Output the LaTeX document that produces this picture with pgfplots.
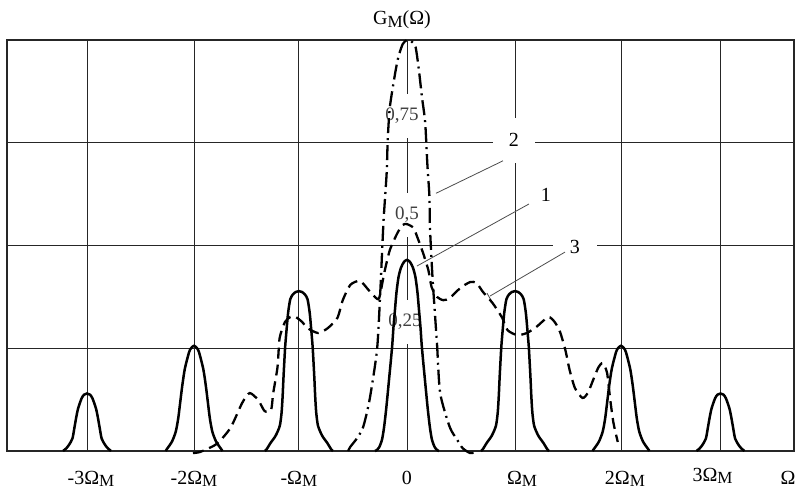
\documentclass[border=0pt]{standalone}
\usepackage{fontspec}
\setmainfont{Liberation Serif}
\usepackage{pgfplots}
\pgfplotsset{compat=1.18}
\newcommand{\sM}{\raisebox{-2.5bp}{\fontsize{17bp}{17bp}\selectfont M}}
\begin{document}
\begin{tikzpicture}
\path[use as bounding box] (-7bp,-39bp) rectangle (791bp,451bp);
\begin{axis}[
  scale only axis, width=787bp, height=411bp,
  xmin=-3.738, xmax=3.617, ymin=0, ymax=1,
  clip=false,
  xtick={-2.99,-1.99,-1.01,0,1.01,2,2.93},
  xticklabels={{\hspace*{8bp}-3Ω\sM},{-2Ω\sM},{-Ω\sM},{0},{\hspace*{14bp}Ω\sM},{\hspace*{8bp}2Ω\sM},{\raisebox{3bp}{3Ω\sM}\hspace*{16bp}}},
  ytick={0.25,0.5,0.75}, yticklabels={},
  major tick length=0pt,
  grid=major,
  grid style={line width=0.9bp, black!85},
  axis line style={line width=1.1bp, black!85},
  xticklabel style={anchor=base, inner sep=0pt, yshift=-33bp, font=\fontsize{20bp}{20bp}\selectfont},
  every axis plot/.append style={black},
]
\node[fill=white, minimum width=38bp, minimum height=44bp, inner sep=0pt, text=black!75, font=\fontsize{19bp}{19bp}\selectfont] at (axis cs:-0.047,0.815) {0,75};
\node[fill=white, minimum width=34bp, minimum height=44bp, inner sep=0pt, text=black!75, font=\fontsize{19bp}{19bp}\selectfont] at (axis cs:0,0.574) {0,5};
\node[fill=white, minimum width=38bp, minimum height=44bp, inner sep=0pt, text=black!75, font=\fontsize{19bp}{19bp}\selectfont] at (axis cs:-0.019,0.314) {0,25};
\node[fill=white, minimum width=42bp, minimum height=45bp, inner sep=0pt, font=\fontsize{20bp}{20bp}\selectfont] at (axis cs:1.0,0.756) {2};
\node[fill=white, minimum width=42bp, minimum height=45bp, inner sep=0pt, font=\fontsize{20bp}{20bp}\selectfont] at (axis cs:1.299,0.623) {1};
\node[fill=white, minimum width=44bp, minimum height=45bp, inner sep=0pt, font=\fontsize{20bp}{20bp}\selectfont] at (axis cs:1.570,0.496) {3};
\draw[black!70, line width=0.8bp] (axis cs:0.271,0.627) -- (axis cs:0.897,0.706);
\draw[black!70, line width=0.8bp] (axis cs:0.093,0.450) -- (axis cs:1.140,0.601);
\draw[black!70, line width=0.8bp] (axis cs:0.776,0.377) -- (axis cs:1.477,0.484);
\draw[black!70, line width=0.8bp] (axis cs:0.748,0.384) -- (axis cs:0.794,0.363);

\node[anchor=base, inner sep=0pt, font=\fontsize{20bp}{20bp}\selectfont] at ([yshift=15bp]axis cs:-0.047,1) {G\sM(Ω)};
\node[anchor=base, inner sep=0pt, font=\fontsize{20bp}{20bp}\selectfont] at ([yshift=-33bp]axis cs:3.561,0) {Ω};

% curve 1 (solid)
\pgfplotsset{sol/.style={line width=2.5bp, smooth, tension=0.45}}
\addplot[sol] coordinates {(-3.214,0) (-3.205,0.002) (-3.186,0.006) (-3.161,0.014) (-3.127,0.030) (-3.109,0.055) (-3.093,0.079) (-3.074,0.103) (-3.041,0.128) (-3.018,0.137) (-2.99,0.140) (-2.962,0.137) (-2.939,0.128) (-2.906,0.103) (-2.887,0.079) (-2.871,0.055) (-2.853,0.030) (-2.819,0.014) (-2.794,0.006) (-2.775,0.002) (-2.766,0)};
\addplot[sol] coordinates {(-2.256,0) (-2.240,0.006) (-2.196,0.023) (-2.161,0.047) (-2.138,0.079) (-2.119,0.119) (-2.100,0.159) (-2.076,0.200) (-2.037,0.240) (-2.018,0.250) (-1.99,0.256) (-1.962,0.250) (-1.943,0.240) (-1.904,0.200) (-1.880,0.159) (-1.861,0.119) (-1.842,0.079) (-1.819,0.047) (-1.784,0.023) (-1.740,0.006) (-1.724,0)};
\addplot[sol] coordinates {(-1.328,0) (-1.312,0.004) (-1.274,0.020) (-1.228,0.037) (-1.189,0.061) (-1.172,0.093) (-1.162,0.134) (-1.155,0.174) (-1.147,0.214) (-1.138,0.255) (-1.125,0.296) (-1.111,0.336) (-1.091,0.369) (-1.066,0.381) (-1.038,0.387) (-1.01,0.389) (-0.982,0.387) (-0.954,0.381) (-0.929,0.369) (-0.909,0.336) (-0.895,0.296) (-0.882,0.255) (-0.873,0.214) (-0.865,0.174) (-0.858,0.134) (-0.848,0.093) (-0.831,0.061) (-0.792,0.037) (-0.746,0.020) (-0.708,0.004) (-0.692,0)};
\addplot[sol] coordinates {(-0.299,0) (-0.290,0.001) (-0.262,0.008) (-0.234,0.027) (-0.215,0.056) (-0.196,0.098) (-0.180,0.140) (-0.165,0.181) (-0.151,0.219) (-0.137,0.260) (-0.126,0.302) (-0.112,0.344) (-0.098,0.386) (-0.079,0.423) (-0.056,0.446) (-0.028,0.460) (0,0.465) (0.028,0.460) (0.056,0.446) (0.079,0.423) (0.098,0.386) (0.112,0.344) (0.126,0.302) (0.137,0.260) (0.151,0.219) (0.165,0.181) (0.180,0.140) (0.196,0.098) (0.215,0.056) (0.234,0.027) (0.262,0.008) (0.290,0.001) (0.299,0)};
\addplot[sol] coordinates {(0.692,0) (0.708,0.004) (0.746,0.020) (0.792,0.037) (0.831,0.061) (0.848,0.093) (0.858,0.134) (0.865,0.174) (0.873,0.214) (0.882,0.255) (0.895,0.296) (0.909,0.336) (0.929,0.369) (0.954,0.381) (0.982,0.387) (1.01,0.389) (1.038,0.387) (1.066,0.381) (1.091,0.369) (1.111,0.336) (1.125,0.296) (1.138,0.255) (1.147,0.214) (1.155,0.174) (1.162,0.134) (1.172,0.093) (1.189,0.061) (1.228,0.037) (1.274,0.020) (1.312,0.004) (1.328,0)};
\addplot[sol] coordinates {(1.734,0) (1.750,0.006) (1.794,0.023) (1.829,0.047) (1.852,0.079) (1.871,0.119) (1.890,0.159) (1.914,0.200) (1.953,0.240) (1.972,0.250) (2.0,0.256) (2.028,0.250) (2.047,0.240) (2.086,0.200) (2.110,0.159) (2.129,0.119) (2.148,0.079) (2.171,0.047) (2.206,0.023) (2.250,0.006) (2.266,0)};
\addplot[sol] coordinates {(2.706,0) (2.715,0.002) (2.734,0.006) (2.759,0.014) (2.793,0.030) (2.811,0.055) (2.827,0.079) (2.846,0.103) (2.879,0.128) (2.902,0.137) (2.93,0.140) (2.958,0.137) (2.981,0.128) (3.014,0.103) (3.033,0.079) (3.049,0.055) (3.067,0.030) (3.101,0.014) (3.126,0.006) (3.145,0.002) (3.154,0)};

% curve 2 (dash-dot)
\addplot[line width=2.3bp, smooth, tension=0.4, dash pattern=on 15bp off 5bp on 2bp off 5bp] coordinates {(-0.55,0.000) (-0.53,0.010) (-0.47,0.030) (-0.41,0.058) (-0.35,0.124) (-0.28,0.246) (-0.25,0.384) (-0.22,0.555) (-0.19,0.676) (-0.18,0.757) (-0.16,0.837) (-0.11,0.920) (-0.08,0.959) (-0.04,0.990) (0.00,1.000) (0.04,0.997) (0.08,0.983) (0.11,0.930) (0.14,0.861) (0.17,0.800) (0.19,0.700) (0.21,0.618) (0.215,0.543) (0.24,0.416) (0.28,0.263) (0.31,0.141) (0.40,0.058) (0.47,0.027) (0.52,0.007) (0.59,-0.005) (0.66,-0.002)};

% curve 3 (dashed)
\addplot[line width=2.3bp, smooth, tension=0.4, dash pattern=on 11bp off 6bp] coordinates {(-2.00,-0.005) (-1.93,-0.002) (-1.78,0.017) (-1.65,0.056) (-1.54,0.117) (-1.47,0.141) (-1.39,0.124) (-1.33,0.097) (-1.27,0.100) (-1.25,0.141) (-1.21,0.204) (-1.19,0.275) (-1.14,0.314) (-1.09,0.326) (-1.04,0.326) (-0.98,0.314) (-0.93,0.299) (-0.83,0.287) (-0.74,0.299) (-0.65,0.324) (-0.60,0.367) (-0.53,0.404) (-0.44,0.414) (-0.36,0.392) (-0.30,0.375) (-0.26,0.372) (-0.21,0.436) (-0.16,0.489) (-0.09,0.530) (-0.04,0.550) (0.00,0.552) (0.06,0.543) (0.10,0.518) (0.15,0.482) (0.20,0.440) (0.23,0.399) (0.28,0.375) (0.34,0.367) (0.40,0.372) (0.50,0.397) (0.59,0.411) (0.65,0.409) (0.71,0.387) (0.80,0.360) (0.89,0.324) (0.94,0.294) (1.03,0.282) (1.12,0.287) (1.21,0.302) (1.32,0.326) (1.38,0.314) (1.43,0.290) (1.48,0.246) (1.52,0.197) (1.57,0.153) (1.64,0.129) (1.69,0.141) (1.74,0.173) (1.79,0.204) (1.83,0.214) (1.87,0.190) (1.90,0.124) (1.93,0.068) (1.97,0.022)};
\end{axis}
\end{tikzpicture}
\end{document}
